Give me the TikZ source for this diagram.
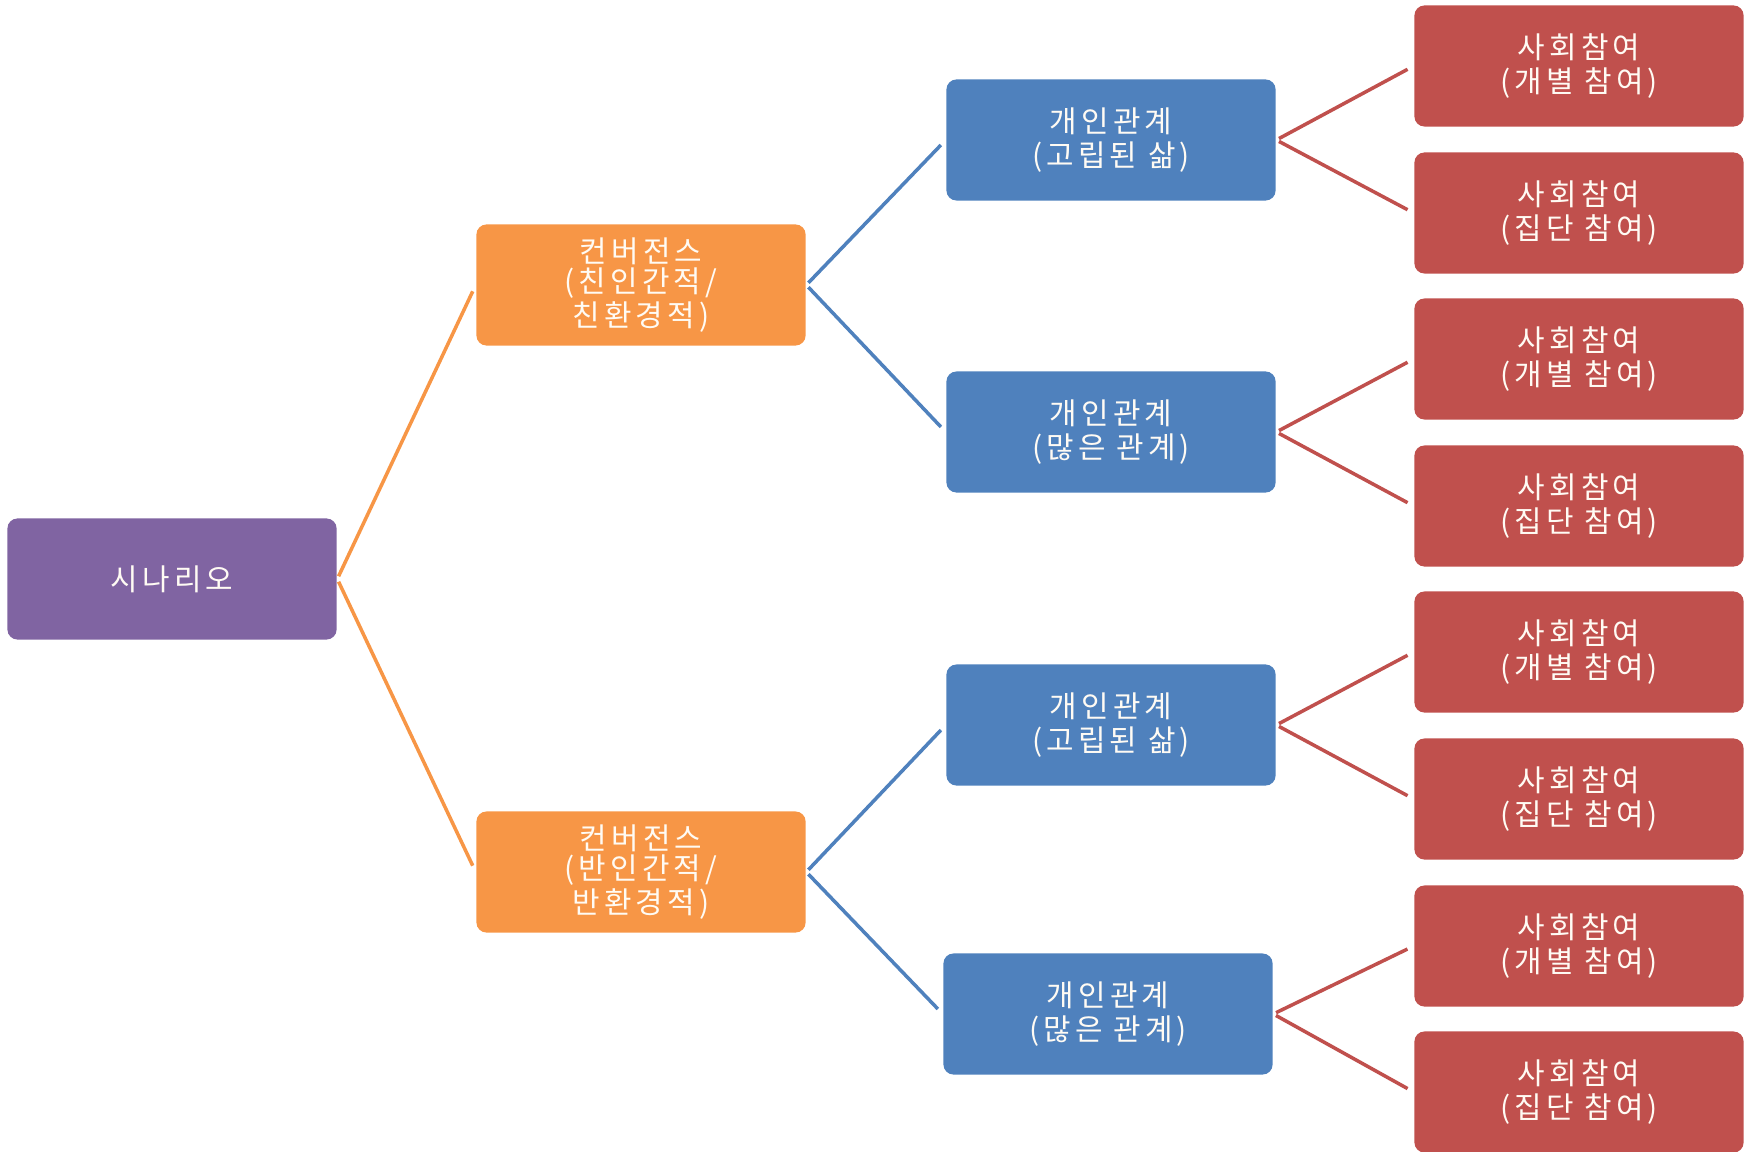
\documentclass[tikz,border=0pt]{standalone}
\usepackage{fontspec}
\setmainfont[LetterSpace=14]{Noto Sans CJK KR}
\usepackage{tikz}
\usetikzlibrary{positioning}
\definecolor{scenpurple}{HTML}{8064A2}
\definecolor{convorange}{HTML}{F79646}
\definecolor{relblue}{HTML}{4F81BD}
\definecolor{partred}{HTML}{C0504D}
\definecolor{boxtext}{HTML}{FFFBF4}
\tikzset{
    mybox/.style={rounded corners=0.1cm,minimum width=3.29cm,minimum height=1.21cm,
        inner sep=0pt,align=center,text=boxtext,font=\fontsize{8.5}{9.5}\selectfont},
    scenbox/.style={mybox,fill=scenpurple},
    convbox/.style={mybox,fill=convorange,font=\fontsize{8.5}{7.7}\selectfont},
    relbox/.style={mybox,fill=relblue},
    partbox/.style={mybox,fill=partred},
    myedge/.style={line width=1pt,shorten <=0.03cm,shorten >=0.07cm}
}
\begin{document}
\begin{tikzpicture}[x=0.01cm,y=-0.01cm]
    \useasboundingbox (0,0) rectangle (1749,1152);

    % 시나리오
    \node[scenbox] (scen) at (172,579) {시나리오};

    % 컨버전스
    \node[convbox] (conv1) at (641,285) {컨버전스\\(친인간적/\\친환경적)};
    \node[convbox] (conv2) at (641,872) {컨버전스\\(반인간적/\\반환경적)};

    % 개인관계
    \node[relbox] (rel1) at (1111,140) {개인관계\\(고립된 삶)};
    \node[relbox] (rel2) at (1111,432) {개인관계\\(많은 관계)};
    \node[relbox] (rel3) at (1111,725) {개인관계\\(고립된 삶)};
    \node[relbox] (rel4) at (1108,1014) {개인관계\\(많은 관계)};

    % 사회참여
    \node[partbox] (part1) at (1579,66) {사회참여\\(개별 참여)};
    \node[partbox] (part2) at (1579,213) {사회참여\\(집단 참여)};
    \node[partbox] (part3) at (1579,359) {사회참여\\(개별 참여)};
    \node[partbox] (part4) at (1579,506) {사회참여\\(집단 참여)};
    \node[partbox] (part5) at (1579,652) {사회참여\\(개별 참여)};
    \node[partbox] (part6) at (1579,799) {사회참여\\(집단 참여)};
    \node[partbox] (part7) at (1579,946) {사회참여\\(개별 참여)};
    \node[partbox] (part8) at (1579,1092) {사회참여\\(집단 참여)};

    % 연결선
    \draw[myedge,convorange] (scen.east) -- (conv1.west);
    \draw[myedge,convorange] (scen.east) -- (conv2.west);

    \draw[myedge,relblue] (conv1.east) -- (rel1.west);
    \draw[myedge,relblue] (conv1.east) -- (rel2.west);
    \draw[myedge,relblue] (conv2.east) -- (rel3.west);
    \draw[myedge,relblue] (conv2.east) -- (rel4.west);

    \foreach \from/\to in {rel1/part1,rel1/part2,rel2/part3,rel2/part4,
                           rel3/part5,rel3/part6,rel4/part7,rel4/part8}
        \draw[myedge,partred] (\from.east) -- (\to.west);
\end{tikzpicture}
\end{document}
